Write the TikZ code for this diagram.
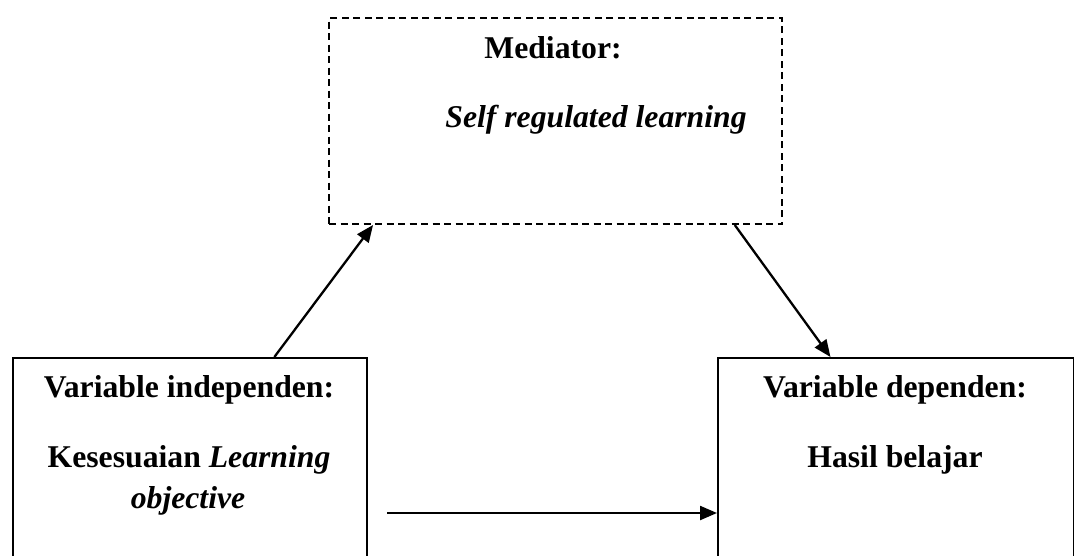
\documentclass[tikz,border=0pt]{standalone}
\usepackage{fontspec}
\setmainfont{Liberation Serif}
\usepackage{tikz}
\usetikzlibrary{positioning,arrows.meta,calc}

\tikzset{
  kotak/.style={draw, line width=2pt, rectangle, inner sep=0pt, anchor=north west},
  teks/.style={inner sep=0pt, anchor=base, font=\fontsize{31.7}{38}\selectfont\bfseries},
  panah/.style={line width=2.3pt, -{Triangle[length=17pt,width=14pt]}}
}

\begin{document}
\begin{tikzpicture}[x=1pt,y=-1pt]
\useasboundingbox (0,0) rectangle (1074,555);
\clip (0,0) rectangle (1074,555);
% kotak
\node[kotak, dash pattern=on 7pt off 4.5pt, minimum width=453pt, minimum height=206pt] (med) at (328,17) {};
\node[kotak, minimum width=354pt, minimum height=230pt] (indep) at (12,357) {};
\node[kotak, minimum width=356pt, minimum height=230pt] (dep) at (717,357) {};
% teks
\node[teks] (medjudul) at (553,58) {Mediator:};
\node[teks] (medisi) at (596,127) {\itshape Self regulated learning};
\node[teks] (indepjudul) at (189,397) {Variable independen:};
\node[teks] (indepisi1) at (189,467) {Kesesuaian \textit{Learning}};
\node[teks] (indepisi2) at (188,508) {\itshape objective};
\node[teks] (depjudul) at (895,397) {Variable dependen:};
\node[teks] (depisi) at (895,467) {Hasil belajar};
% panah
\draw[panah] ($(indep.north west)!0.737!(indep.north east)$) -- ($(med.south west)!0.099!(med.south east)$);
\draw[panah] ($(med.south west)!0.894!(med.south east)$) -- ($(dep.north west)!0.317!(dep.north east)$);
\coordinate (hmulai) at (387,513);
\draw[panah] (hmulai) -- (hmulai -| dep.west);
\end{tikzpicture}
\end{document}
